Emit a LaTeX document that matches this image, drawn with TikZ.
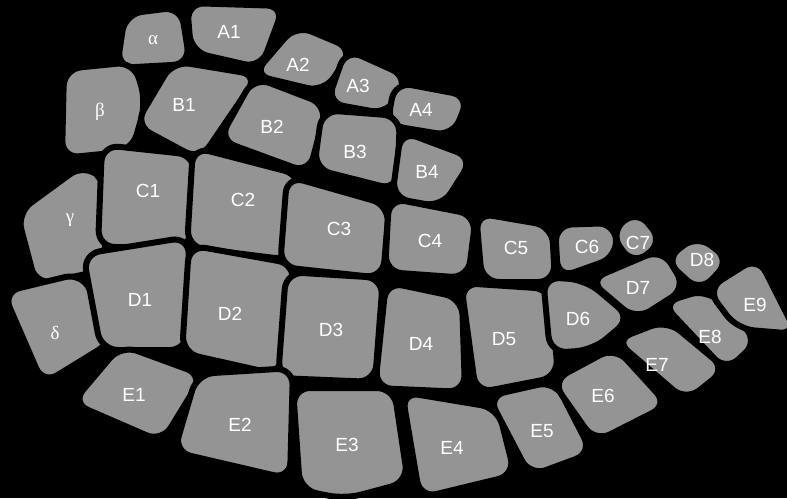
\documentclass[tikz,border=0pt]{standalone}
\usepackage{fontspec}
\setmainfont{Liberation Sans}
\newfontfamily\grk{Liberation Serif}
\usepackage{xcolor}
\definecolor{platefill}{RGB}{148,148,148}

\tikzset{
  plate/.style={fill=platefill, draw=black, line width=6pt, rounded corners=17pt},
  lbl/.style={text=white, font=\fontsize{19}{19}\selectfont, inner sep=0pt},
  glbl/.style={text=white, font=\grk\fontsize{19}{19}\selectfont, inner sep=0pt}
}

\begin{document}
\begin{tikzpicture}[x=1pt,y=-1pt]
\fill[black] (0,0) rectangle (787,498);
\clip (0,0) rectangle (787,498);
% row A
\draw[plate] (125,14) -- (181,7) -- (190,64) -- (117,68) -- cycle;
\node[glbl] (alpha) at (153,40) {α};
\draw[plate] (187,3) -- (284,6) -- (261,68) -- (191,52) -- cycle;
\node[lbl] (A1) at (229,32) {A1};
\draw[plate] (253,75) -- (296,25) -- (353,49) -- (324,92) -- cycle;
\node[lbl] (A2) at (298,65) {A2};
\draw[plate] (327,103) -- (346,49) -- (408,77) -- (388,114) -- cycle;
\node[lbl] (A3) at (358,86) {A3};
\draw[plate] (395,82) -- (469,96) -- (453,136) -- (387,125) -- cycle;
\node[lbl] (A4) at (421,110) {A4};
% row B
\draw[plate] (64,69) -- (134,62) -- (146,102) -- (132,151) -- (62,158) -- cycle;
\node[glbl] (beta) at (100,112) {β};
\draw[plate] (135,125) -- (173,61) -- (258,75) -- (200,160) -- cycle;
\node[lbl] (B1) at (184,105) {B1};
\draw[plate] (219,140) -- (254,77) -- (327,105) -- (309,173) -- cycle;
\node[lbl] (B2) at (272,127) {B2};
\draw[plate] (322,110) -- (400,116) -- (397,190) -- (314,169) -- cycle;
\node[lbl] (B3) at (355,152) {B3};
\draw[plate] (401,131) -- (473,158) -- (442,207) -- (392,198) -- cycle;
\node[lbl] (B4) at (427,172) {B4};
% row C
\draw[plate] (84,164) -- (107,183) -- (104,270) -- (36,285) -- (17,213) -- cycle;
\node[glbl] (gamma) at (70,220) {γ};
\draw[plate] (102,145) -- (195,155) -- (191,247) -- (98,247) -- cycle;
\node[lbl] (C1) at (148,191) {C1};
\draw[plate] (193,147) -- (301,175) -- (291,260) -- (187,247) -- cycle;
\node[lbl] (C2) at (243,200) {C2};
\draw[plate] (287,176) -- (389,205) -- (383,278) -- (280,267) -- cycle;
\node[lbl] (C3) at (339,229) {C3};
\draw[plate] (389,198) -- (476,215) -- (468,278) -- (385,272) -- cycle;
\node[lbl] (C4) at (430,241) {C4};
\draw[plate] (476,213) -- (552,226) -- (555,282) -- (482,282) -- cycle;
\node[lbl] (C5) at (516,248) {C5};
\draw[plate] (555,225) -- (615,223) -- (617,257) -- (558,278) -- cycle;
\node[lbl] (C6) at (587,247) {C6};
\draw[plate] (637,210) -- (663,242) -- (633,265) -- (610,233) -- cycle;
\node[lbl] (C7) at (638,243) {C7};
% row D
\draw[plate] (3,292) -- (82,273) -- (113,341) -- (43,384) -- cycle;
\node[glbl] (delta) at (55,333) {δ};
\draw[plate] (83,254) -- (189,237) -- (187,350) -- (101,350) -- cycle;
\node[lbl] (D1) at (140,300) {D1};
\draw[plate] (189,245) -- (295,264) -- (280,375) -- (182,353) -- cycle;
\node[lbl] (D2) at (230,314) {D2};
\draw[plate] (286,272) -- (383,278) -- (375,382) -- (278,378) -- cycle;
\node[lbl] (D3) at (331,330) {D3};
\draw[plate] (386,282) -- (462,298) -- (465,392) -- (375,388) -- cycle;
\node[lbl] (D4) at (421,344) {D4};
\draw[plate] (461,283) -- (551,289) -- (558,377) -- (476,393) -- cycle;
\node[lbl] (D5) at (504,339) {D5};
\draw[plate] (543,277) -- (586,280) -- (631,318) -- (593,350) -- (550,353) -- cycle;
\node[lbl] (D6) at (578,319) {D6};
\draw[plate] (589,280) -- (662,249) -- (686,288) -- (636,320) -- cycle;
\node[lbl] (D7) at (638,288) {D7};
\draw[plate] (665,260) -- (697,235) -- (730,260) -- (700,292) -- cycle;
\node[lbl] (D8) at (702,260) {D8};
% row E
\draw[plate] (72,403) -- (121,345) -- (203,375) -- (162,442) -- cycle;
\node[lbl] (E1) at (134,395) {E1};
\draw[plate] (197,374) -- (293,368) -- (290,479) -- (174,452) -- cycle;
\node[lbl] (E2) at (240,425) {E2};
\draw[plate] (293,388) -- (394,388) -- (408,482) -- (345,499) -- (300,490) -- cycle;
\node[lbl] (E3) at (347,445) {E3};
\draw[plate] (402,392) -- (498,408) -- (515,475) -- (420,498) -- cycle;
\node[lbl] (E4) at (452,448) {E4};
\draw[plate] (488,396) -- (555,381) -- (592,453) -- (530,476) -- cycle;
\node[lbl] (E5) at (542,431) {E5};
\draw[plate] (552,381) -- (615,347) -- (668,405) -- (595,442) -- cycle;
\node[lbl] (E6) at (603,396) {E6};
\draw[plate] (615,340) -- (667,320) -- (726,369) -- (686,401) -- cycle;
\node[lbl] (E7) at (657,365) {E7};
\draw[plate] (662,303) -- (707,289) -- (758,341) -- (726,371) -- cycle;
\node[lbl] (E8) at (710,337) {E8};
\draw[plate] (707,289) -- (758,257) -- (797,334) -- (737,329) -- cycle;
\node[lbl] (E9) at (755,305) {E9};
\end{tikzpicture}
\end{document}
